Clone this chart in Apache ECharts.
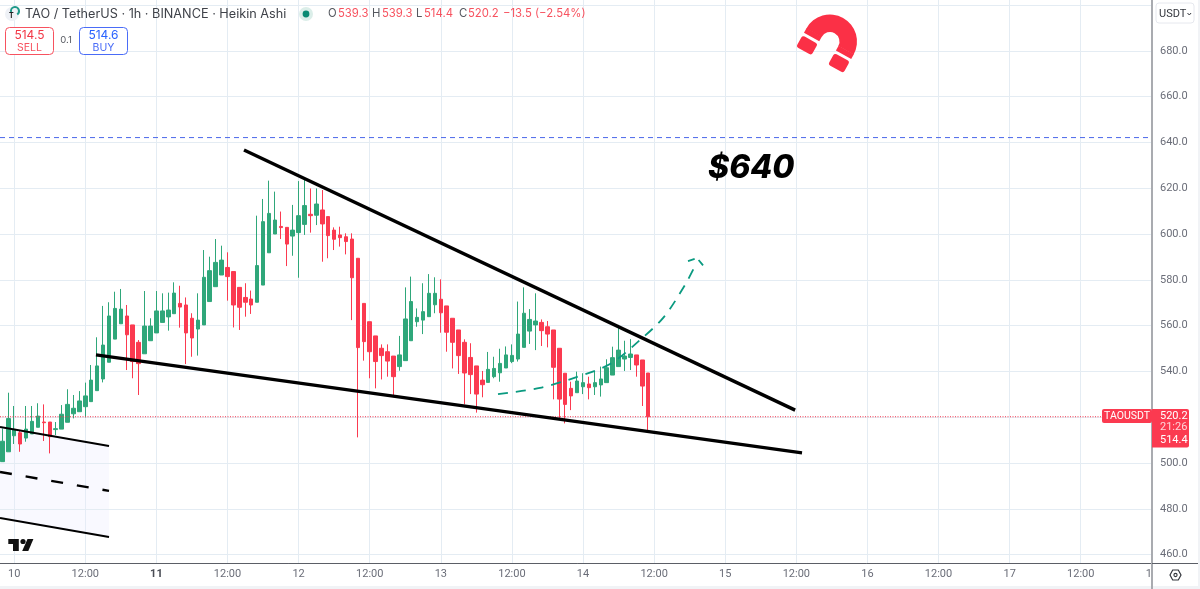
<!DOCTYPE html>
<html>
<head>
<meta charset="utf-8">
<title>TAO / TetherUS</title>
<style>
html, body { margin: 0; padding: 0; background: #fff; }
#chart { width: 1200px; height: 589px; }
</style>
<script src="https://cdn.jsdelivr.net/npm/echarts@6/dist/echarts.min.js"></script>
</head>
<body>
<div id="chart"></div>
<script>
// one label every 12 candles, the first one is two candles in
var tick_labels = ['10', '12:00', '11', '12:00', '12', '12:00', '13', '12:00', '14', '12:00', '15', '12:00', '16', '12:00', '17', '12:00', '18'];
var price_ticks_hidden = [720, 700, 440];

// heikin ashi candles, hourly from 9th 22:00: [open, close, low, high]
var candles = [
    [500.6, 509.5, 500.6, 515.1], [504.9, 519.4, 504.9, 530.7], [511.9, 514.7, 508.3, 524.9], [513.2, 508.3, 504.9, 514.4],
    [510.9, 514.8, 509.3, 524.9], [512.7, 518.2, 512.7, 524.9], [515.6, 520.5, 515.6, 526.1], [517.9, 517.6, 509.6, 525.6],
    [517.9, 511.5, 504.2, 517.9], [514.6, 515.0, 512.2, 517.9], [514.8, 521.3, 514.8, 525.3], [517.8, 525.6, 517.8, 532.2],
    [521.5, 523.9, 519.5, 529.7], [522.4, 527.1, 522.4, 531.4], [524.6, 529.3, 519.9, 535.1], [526.8, 536.2, 526.8, 542.8],
    [531.6, 542.4, 531.6, 554.9], [536.7, 551.5, 535.2, 568.6], [544.0, 564.2, 544.0, 570.2], [554.1, 567.5, 554.1, 574.8],
    [560.8, 567.2, 560.8, 576.0], [564.2, 556.0, 540.6, 569.0], [560.3, 544.3, 537.0, 560.3], [552.7, 543.4, 529.7, 553.7],
    [547.7, 559.8, 547.7, 575.1], [553.4, 559.8, 553.4, 563.2], [556.8, 566.4, 556.8, 575.1], [561.4, 566.4, 561.4, 574.1],
    [563.8, 566.8, 557.8, 574.4], [565.2, 574.2, 565.2, 578.9], [569.7, 568.1, 559.1, 577.4], [569.0, 556.8, 543.2, 572.3],
    [563.2, 554.6, 546.4, 565.4], [558.5, 562.4, 546.9, 574.1], [560.3, 581.1, 560.3, 593.0], [570.5, 584.0, 570.5, 590.1],
    [577.0, 587.6, 577.0, 597.8], [582.1, 588.6, 582.1, 594.9], [585.4, 581.4, 570.9, 592.0], [583.6, 569.0, 559.2, 583.6],
    [576.7, 568.0, 558.1, 576.7], [572.3, 570.2, 563.9, 578.5], [571.6, 569.0, 565.1, 575.3], [570.2, 586.2, 570.2, 608.0],
    [577.7, 605.4, 577.7, 615.3], [591.8, 609.0, 591.8, 623.3], [600.0, 606.1, 600.0, 618.5], [603.3, 602.8, 597.8, 609.8],
    [602.9, 595.6, 586.0, 602.9], [599.1, 601.7, 590.5, 612.7], [600.6, 608.0, 580.9, 623.1], [604.2, 612.4, 599.6, 624.7],
    [608.6, 608.0, 600.6, 619.9], [608.2, 613.1, 603.9, 619.9], [610.5, 604.4, 587.9, 619.2], [607.6, 599.3, 589.4, 607.6],
    [601.7, 597.7, 593.0, 602.9], [599.6, 598.4, 594.5, 603.2], [598.8, 596.7, 591.1, 600.3], [597.8, 580.9, 562.4, 600.3],
    [589.4, 550.4, 511.2, 589.4], [569.7, 553.0, 544.7, 569.7], [561.7, 548.6, 537.0, 561.7], [555.5, 544.3, 532.6, 555.5],
    [550.1, 546.9, 536.5, 551.8], [548.6, 544.5, 537.7, 551.8], [546.7, 537.7, 528.7, 546.7], [542.1, 547.2, 540.3, 555.5],
    [544.7, 562.9, 544.7, 576.7], [553.4, 570.5, 553.4, 581.4], [561.7, 563.6, 559.5, 567.5], [562.4, 566.1, 556.3, 578.5],
    [563.9, 574.1, 563.9, 582.5], [569.1, 574.1, 565.4, 581.1], [571.5, 565.6, 556.9, 580.2], [568.6, 557.1, 548.6, 568.6],
    [563.2, 552.7, 541.3, 563.2], [558.1, 546.9, 538.9, 558.1], [552.7, 539.3, 525.6, 554.0], [546.1, 538.6, 530.1, 552.3],
    [542.4, 530.1, 522.0, 542.4], [536.2, 534.2, 528.7, 540.2], [535.2, 540.9, 535.2, 548.5], [537.7, 541.3, 537.0, 546.4],
    [539.4, 543.5, 535.5, 549.9], [541.5, 547.2, 541.5, 550.9], [544.3, 547.0, 543.6, 551.8], [545.4, 556.3, 544.3, 570.5],
    [550.5, 565.4, 550.5, 576.7], [557.6, 562.7, 552.0, 567.2], [560.3, 562.0, 549.3, 574.1], [561.4, 557.8, 551.1, 562.7],
    [559.5, 556.3, 550.5, 562.0], [558.1, 541.8, 527.8, 558.1], [550.1, 527.9, 518.8, 550.1], [539.2, 525.6, 517.3, 539.2],
    [532.6, 529.3, 523.1, 535.5], [530.7, 535.8, 530.7, 539.9], [533.3, 535.1, 530.1, 539.2], [534.5, 532.9, 527.8, 537.7],
    [533.3, 535.1, 529.7, 539.9], [534.1, 536.7, 529.0, 542.1], [535.1, 541.6, 535.1, 545.3], [538.4, 546.0, 538.4, 550.8],
    [542.1, 549.3, 542.1, 560.3], [545.4, 546.7, 540.2, 553.4], [546.1, 547.6, 540.6, 554.1], [547.2, 542.8, 537.7, 547.2],
    [545.0, 533.6, 524.9, 545.0], [539.3, 520.2, 514.4, 539.3]
];

// drawn lines as [candle index, price]
var wedge_top = [[40.78, 636.7], [133.8, 523.1]];
var wedge_bottom = [[15.8, 547.2], [134.96, 504.4]];
var channel_top = [[-0.4, 515.7], [18.0, 507.4]];
var channel_mid = [[-0.4, 496.1], [18.0, 487.8]];
var channel_bottom = [[-0.4, 476.0], [18.0, 467.7]];
var path_up = [[83.65, 530.1], [90.74, 532.8], [96.65, 537.3], [102.56, 543.2], [107.62, 553.7], [111.67, 563.8], [115.2, 577.7], [116.9, 586.0]];
var arrow_head = [[115.72, 588.2], [117.24, 589.5], [118.6, 585.2]];
var target_level = 642.1;
var last_close = 520.2;

var x_min = -0.4, x_max = 194.03;
var green = '#2fa77a', red = '#fb3a50', grid_color = '#e4ecf3', label_color = '#6a6d78';
var ui_font = 'Inter, "Noto Sans", sans-serif';
var scale_font = 'Roboto, "Noto Sans", sans-serif';

var categories = [];
for (var i = 0; i < 195; i++) {
    categories.push((i - 2) % 12 === 0 && i >= 2 ? tick_labels[(i - 2) / 12] + '#' + i : String(i));
}

function level_line(price) {
    return [[x_min, price], [x_max, price]];
}

function draw_line(data, color, width, dash, smooth) {
    return {
        type: 'line', xAxisIndex: 1, yAxisIndex: 1, data: data, showSymbol: false, silent: true,
        smooth: smooth || false, z: 7, animation: false,
        lineStyle: { color: color, width: width, type: dash || 'solid', cap: 'butt' }
    };
}

function txt(x, y, text, size, color, extra) {
    var style = { x: x, y: y, text: text, font: (extra && extra.weight || 'normal') + ' ' + size + 'px ' + (extra && extra.family || ui_font), fill: color,
        align: extra && extra.align || 'left', verticalAlign: 'middle' };
    return { type: 'text', z: 10, silent: true, style: style };
}

function box(x, y, w, h, r, fill, stroke, z) {
    return { type: 'rect', z: z || 9, silent: true, shape: { x: x, y: y, width: w, height: h, r: r },
        style: { fill: fill, stroke: stroke, lineWidth: stroke ? 1 : 0 } };
}

var chart = echarts.init(document.getElementById('chart'), null, { renderer: 'canvas' });

var option = {
    animation: false,
    backgroundColor: '#fff',
    grid: [
        { left: -0.6, top: 0, width: 1155.4, height: 563, outerBoundsMode: 'none' },
        { left: 0, top: -40.8, width: 1152, height: 641.2, outerBoundsMode: 'none' }
    ],
    xAxis: [{
        type: 'category', gridIndex: 0, data: categories, boundaryGap: true, z: 0,
        axisLine: { lineStyle: { color: '#5b5e66', width: 1 } },
        axisTick: { show: false },
        splitLine: { show: true, alignWithLabel: true, lineStyle: { color: grid_color, width: 1 },
            interval: function (index) { return index >= 2 && (index - 2) % 12 === 0; } },
        axisLabel: {
            color: label_color, fontSize: 11, fontFamily: scale_font, margin: 6, hideOverlap: false,
            interval: function (index) { return index >= 2 && (index - 2) % 12 === 0; },
            formatter: function (value) {
                var label = value.split('#')[0];
                return label === '11' ? '{day|' + label + '}' : label;
            },
            rich: { day: { fontWeight: 'bold', fontSize: 11, color: '#4a4d55', fontFamily: scale_font } }
        }
    }, {
        type: 'value', gridIndex: 1, min: x_min, max: x_max, show: false
    }],
    yAxis: [{
        type: 'value', gridIndex: 0, min: 456.34, max: 702.18, show: false, splitLine: { show: false }
    }, {
        type: 'value', gridIndex: 1, position: 'right', min: 440, max: 720, interval: 20, z: 5,
        axisLine: { show: true, onZero: false, lineStyle: { color: '#a9abb0', width: 2 } },
        axisTick: { show: false },
        splitLine: { show: true, lineStyle: { color: grid_color, width: 1 } },
        axisLabel: {
            color: label_color, fontSize: 11, fontFamily: scale_font, margin: 8,
            formatter: function (v) {
                return price_ticks_hidden.indexOf(v) >= 0 ? '' : v.toFixed(1);
            }
        }
    }],
    series: [
        {
            // lavender patch between the channel lines
            type: 'custom', xAxisIndex: 1, yAxisIndex: 1, silent: true, z: 1,
            data: [0],
            renderItem: function (params, api) {
                var pts = [channel_top[0], channel_top[1], channel_bottom[1], channel_bottom[0]].map(function (p) {
                    return api.coord(p);
                });
                return { type: 'polygon', shape: { points: pts }, style: { fill: 'rgba(235, 235, 255, 0.3)' } };
            }
        },
        {
            type: 'candlestick', xAxisIndex: 0, yAxisIndex: 0, data: candles, barWidth: 4, z: 6,
            itemStyle: { color: green, color0: red, borderColor: green, borderColor0: red, borderWidth: 1 }
        },
        draw_line(level_line(target_level), '#4a68ea', 1, [5, 4]),
        draw_line(level_line(last_close), '#f4364c', 1, [1, 1.5]),
        draw_line(wedge_top, '#000', 3.4),
        draw_line(wedge_bottom, '#000', 3.4),
        draw_line(channel_top, '#000', 2),
        draw_line(channel_mid, '#000', 2.4, [12, 14]),
        draw_line(channel_bottom, '#000', 2),
        draw_line(path_up, '#0a9a80', 1.8, [10, 8], 0.3),
        draw_line(arrow_head, '#0a9a80', 1.8, [7, 5])
    ],
    graphic: [
        // right gutter, covers the clipped last time label
        box(1153, 0, 47, 589, 0, '#fff', null, 1),
        box(0, 586, 1200, 3, 0, '#f1f3f6', null, 2),
        box(1198, 0, 2, 589, 0, '#f1f3f6', null, 2),
        { type: 'line', z: 6, silent: true, shape: { x1: 1152, y1: 563.5, x2: 1198, y2: 563.5 }, style: { stroke: '#5b5e66', lineWidth: 1 } },

        // header
        { type: 'circle', z: 9, silent: true, shape: { cx: 12, cy: 14, r: 7 }, style: { fill: '#eef1f6' } },
        { type: 'arc', z: 9, silent: true, shape: { cx: 15, cy: 11, r: 4, startAngle: -3.4, endAngle: 1 }, style: { stroke: '#1f9a8a', fill: null, lineWidth: 2 } },
        txt(9, 16, 'T', 7, '#222', { weight: 'bold' }),
        txt(25, 14, 'TAO / TetherUS · 1h · BINANCE · Heikin Ashi', 12.7, '#3f4249'),
        { type: 'circle', z: 9, silent: true, shape: { cx: 306, cy: 14, r: 7 }, style: { fill: '#dbeee9' } },
        { type: 'circle', z: 10, silent: true, shape: { cx: 306, cy: 14, r: 3.4 }, style: { fill: '#088a72' } },
        txt(328, 14, 'O', 11.3, '#55585f'), txt(338, 14, '539.3', 11.3, '#f7525f'),
        txt(372, 14, 'H', 11.3, '#55585f'), txt(382, 14, '539.3', 11.3, '#f7525f'),
        txt(416, 14, 'L', 11.3, '#55585f'), txt(424, 14, '514.4', 11.3, '#f7525f'),
        txt(459, 14, 'C', 11.3, '#55585f'), txt(468, 14, '520.2', 11.3, '#f7525f'),
        txt(503, 14, '−13.5 (−2.54%)', 11.3, '#f7525f'),

        // sell / buy buttons
        box(5.5, 27.5, 48, 27, 4, '#fff', '#f7525f'),
        txt(29.5, 35, '514.5', 12, '#f23645', { align: 'center' }),
        txt(29.5, 47.5, 'SELL', 10.5, '#f7525f', { align: 'center' }),
        txt(66, 40.5, '0.1', 9.5, '#55585f', { align: 'center' }),
        box(79.5, 27.5, 48, 27, 4, '#fff', '#4a6cf7'),
        txt(103.5, 35, '514.6', 12, '#2962ff', { align: 'center' }),
        txt(103.5, 47.5, 'BUY', 10.5, '#4a6cf7', { align: 'center' }),

        // currency button and settings
        box(1156, 3, 38, 20, 3, '#fff', '#e6e8ee'),
        txt(1159, 14, 'USDT', 11, '#33363d', { family: scale_font }),
        { type: 'polyline', z: 10, silent: true, shape: { points: [[1187.5, 13], [1189.3, 15], [1191.1, 13]] }, style: { stroke: '#33363d', fill: null, lineWidth: 1 } },
        { type: 'polygon', z: 10, silent: true, shape: { points: [[1170, 575], [1172.7, 570], [1178.3, 570], [1181, 575], [1178.3, 580], [1172.7, 580]] }, style: { stroke: '#33363d', fill: null, lineWidth: 1.2 } },
        { type: 'circle', z: 10, silent: true, shape: { cx: 1175.5, cy: 575, r: 1.6 }, style: { stroke: '#33363d', fill: null, lineWidth: 1.1 } },

        // last price tags
        box(1102, 409, 50, 14, 2, red, null, 8),
        txt(1127, 416.3, 'TAOUSDT', 10.5, '#fff', { align: 'center', family: scale_font }),
        box(1152, 409, 37, 38.5, [0, 2, 2, 0], red, null, 8),
        txt(1160, 416, '520.2', 11, '#fff', { family: scale_font }),
        txt(1160, 427.5, '21:26', 11, '#ffd3d8', { family: scale_font }),
        txt(1160, 440.5, '514.4', 11, '#fff', { family: scale_font }),

        // price target text
        { type: 'text', z: 10, silent: true, style: { x: 708, y: 168.5, text: '$640', font: 'italic 800 32px Inter, sans-serif', fill: '#000', verticalAlign: 'middle' } },

        // magnet sticker
        { type: 'group', z: 10, x: 830, y: 41.5, rotation: -29 * Math.PI / 180, silent: true, children: [
            { type: 'sector', z: 10, silent: true, shape: { cx: 0, cy: 0, r: 27, r0: 9.5, startAngle: Math.PI, endAngle: 2 * Math.PI }, style: { fill: '#fb3046' } },
            box(-27, -0.5, 17.5, 5.5, 0, '#fb3046', null, 10),
            box(9.5, -0.5, 17.5, 5.5, 0, '#fb3046', null, 10),
            box(-27, 8, 17.5, 13, 2.5, '#fb3046', null, 10),
            box(9.5, 8, 17.5, 13, 2.5, '#fb3046', null, 10)
        ] },

        // tradingview mark
        { type: 'polygon', z: 10, silent: true, shape: { points: [[8.3, 539], [18.8, 539], [18.8, 551], [13, 551], [13, 544], [8.3, 544]] }, style: { fill: '#111' } },
        { type: 'circle', z: 10, silent: true, shape: { cx: 23, cy: 541.5, r: 2.6 }, style: { fill: '#111' } },
        { type: 'polygon', z: 10, silent: true, shape: { points: [[27.5, 539], [33.4, 539], [28.3, 551], [22.2, 551]] }, style: { fill: '#111' } }
    ]
};

chart.setOption(option);
</script>
</body>
</html>
